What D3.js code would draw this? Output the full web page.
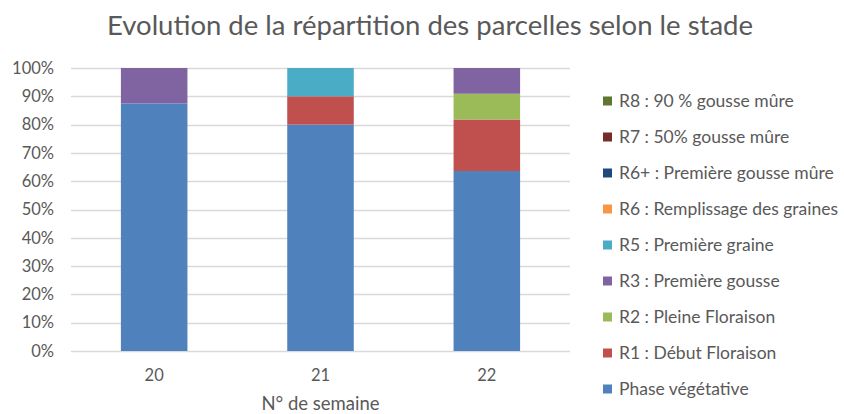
<!DOCTYPE html>
<html>
<head>
<meta charset="utf-8">
<script src="https://cdn.jsdelivr.net/npm/d3@7"></script>
<style>
  body { margin: 0; background: #fff; }
  text { font-family: Lato, "Open Sans", sans-serif; fill: #595959; }
</style>
</head>
<body>
<svg id="chart" width="844" height="414"></svg>
<script>
// weeks on the x axis
var weeks = ['20', '21', '22'];

// stages, bottom of the stack first
var stages = ['Phase végétative', 'R1 : Début Floraison', 'R2 : Pleine Floraison', 'R3 : Première gousse',
  'R5 : Première graine', 'R6 : Remplissage des graines', 'R6+ : Première gousse mûre',
  'R7 : 50% gousse mûre', 'R8 : 90 % gousse mûre'];
var stageColors = ['#4F81BD', '#C0504D', '#9BBB59', '#8064A2', '#4BACC6', '#F79646', '#1F497D', '#772C2A', '#5F7530'];

// share of parcels per stage (%), one value per week
var vegetative = [87.5, 80, 63.6];
var r1 = [0, 10, 18.2];
var r2 = [0, 0, 9.1];
var r3 = [12.5, 0, 9.1];
var r5 = [0, 10, 0];
var r6 = [0, 0, 0];
var r6plus = [0, 0, 0];
var r7 = [0, 0, 0];
var r8 = [0, 0, 0];

var yTicks = [0, 10, 20, 30, 40, 50, 60, 70, 80, 90, 100];

var series = [vegetative, r1, r2, r3, r5, r6, r6plus, r7, r8];
var rows = weeks.map(function(w, i){
  var row = {week: w};
  stages.forEach(function(s, k){ row[s] = series[k][i]; });
  return row;
});

var svg = d3.select('#chart');
var plotLeft = 71, plotRight = 570, plotTop = 68, plotBottom = 351;

var x = d3.scaleBand().domain(weeks).range([plotLeft, plotRight]).paddingInner(0.6).paddingOuter(0.3);
var y = d3.scaleLinear().domain([0, 100]).range([plotBottom, plotTop]);

// title
svg.append('text')
  .attr('x', 430).attr('y', 35)
  .attr('text-anchor', 'middle')
  .style('font-size', '27.5px')
  .text('Evolution de la répartition des parcelles selon le stade');

// grid
svg.append('g').selectAll('line').data(yTicks)
  .enter().append('line')
  .attr('x1', plotLeft).attr('x2', plotRight)
  .attr('y1', function(d){ return Math.round(y(d)) + 0.5; })
  .attr('y2', function(d){ return Math.round(y(d)) + 0.5; })
  .attr('stroke', '#d9d9d9')
  .attr('stroke-width', 1.5);

// y axis labels
var yAxis = d3.axisLeft(y).tickValues(yTicks).tickFormat(function(d){ return d + '%'; }).tickSize(0).tickPadding(17);
svg.append('g').attr('transform', 'translate(' + plotLeft + ',0)').call(yAxis)
  .call(function(g){ g.select('.domain').remove(); })
  .selectAll('text').style('font-size', '16.5px').attr('fill', '#595959').style('font-family', 'Lato, sans-serif');

// stacked bars
var stacked = d3.stack().keys(stages)(rows);
svg.append('g').selectAll('g').data(stacked)
  .enter().append('g')
  .attr('fill', function(d, i){ return stageColors[i]; })
  .selectAll('rect').data(function(d){ return d; })
  .enter().append('rect')
  .attr('x', function(d){ return x(d.data.week); })
  .attr('width', x.bandwidth())
  .attr('y', function(d){ return y(d[1]); })
  .attr('height', function(d){ return y(d[0]) - y(d[1]); });

// x axis labels
var xAxis = d3.axisBottom(x).tickSize(0).tickPadding(18);
svg.append('g').attr('transform', 'translate(0,' + plotBottom + ')').call(xAxis)
  .call(function(g){ g.select('.domain').remove(); })
  .selectAll('text').style('font-size', '16.5px').attr('fill', '#595959').style('font-family', 'Lato, sans-serif');

svg.append('text')
  .attr('x', (plotLeft + plotRight) / 2).attr('y', 410)
  .attr('text-anchor', 'middle')
  .style('font-size', '18.5px')
  .text('N° de semaine');

// legend, top entry is the last stage
var legend = svg.append('g').selectAll('g').data(stages.slice().reverse())
  .enter().append('g')
  .attr('transform', function(d, i){ return 'translate(603,' + (101 + i * 36) + ')'; });

legend.append('rect')
  .attr('x', 0).attr('y', -4.5)
  .attr('width', 9).attr('height', 9)
  .attr('fill', function(d){ return stageColors[stages.indexOf(d)]; });

legend.append('text')
  .attr('x', 16).attr('y', 6)
  .style('font-size', '17.5px')
  .text(function(d){ return d; });
</script>
</body>
</html>
